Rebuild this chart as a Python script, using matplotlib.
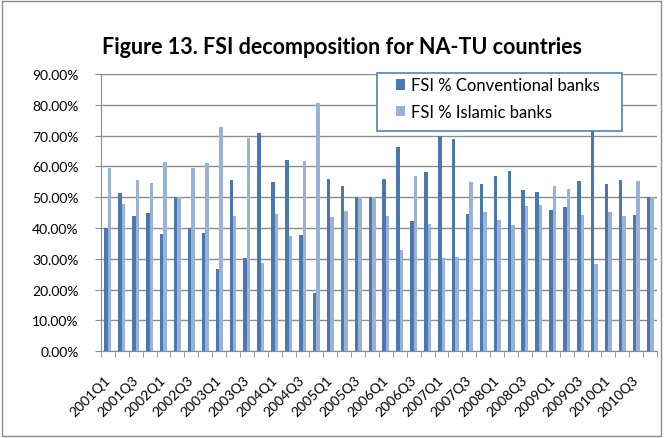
import matplotlib
matplotlib.use('Agg')
import matplotlib.pyplot as plt
import numpy as np
from matplotlib.ticker import PercentFormatter, FixedLocator
from matplotlib.patches import Rectangle
from matplotlib.transforms import ScaledTranslation

quarters = [f'{y}Q{q}' for y in range(2001, 2011) for q in range(1, 5)]

conventional = [40.0, 51.5, 43.9, 44.7, 38.0, 50.0, 40.0, 38.3,
                26.8, 55.5, 30.2, 70.9, 55.0, 62.1, 37.8, 18.8,
                56.0, 53.7, 50.0, 50.0, 55.8, 66.4, 42.3, 58.3,
                69.9, 69.0, 44.5, 54.4, 56.8, 58.4, 52.4, 51.8,
                45.8, 46.9, 55.3, 71.6, 54.4, 55.5, 44.2, 50.0]
islamic = [59.6, 47.8, 55.7, 54.7, 61.4, 50.0, 59.6, 61.2,
           72.8, 44.0, 69.3, 28.5, 44.4, 37.4, 61.7, 80.7,
           43.5, 45.6, 50.0, 50.0, 43.9, 33.0, 57.0, 41.2,
           30.1, 30.5, 54.9, 45.1, 42.5, 41.0, 47.1, 47.6,
           53.6, 52.7, 44.2, 28.4, 45.1, 44.0, 55.3, 50.0]

plt.rcParams['font.family'] = ['Lato', 'DejaVu Sans']

fig = plt.figure(figsize=(6.64, 4.39), dpi=100)
ax = fig.add_axes([0.152, 0.198, 0.8375, 0.631])

x = np.arange(len(quarters))
w = 0.25
ax.bar(x - w / 2, conventional, w, color='#4A78B2', label='FSI % Conventional banks', zorder=2)
ax.bar(x + w / 2, islamic, w, color='#9BB2D8', label='FSI % Islamic banks', zorder=2)

ax.set_ylim(0, 90)
ax.set_xlim(-0.5, len(quarters) - 0.5)
ax.set_yticks(np.arange(0, 91, 10))
ax.yaxis.set_major_formatter(PercentFormatter(xmax=100, decimals=2))
ax.grid(axis='y', color='#8C8C8C', lw=1, zorder=0)
ax.tick_params(axis='y', length=4, color='#8C8C8C', labelsize=10, pad=12)

ax.set_xticks(x[::2])
ax.set_xticklabels(quarters[::2], rotation=45, ha='right', rotation_mode='anchor', fontsize=10)
ax.xaxis.set_minor_locator(FixedLocator(np.arange(-0.5, len(quarters), 1)))
ax.tick_params(axis='x', which='major', length=0, pad=16)
ax.tick_params(axis='x', which='minor', length=4, color='#8C8C8C')
shift = ScaledTranslation(-4 / 100, 0, fig.dpi_scale_trans)
for lab in ax.get_xticklabels():
    lab.set_transform(lab.get_transform() + shift)

for s in ['top', 'right']:
    ax.spines[s].set_visible(False)
for s in ['left', 'bottom']:
    ax.spines[s].set_color('#8C8C8C')

# legend box (drawn separately so the padding matches)
box = Rectangle((0.4964, 0.794), 0.4406, 0.2096, transform=ax.transAxes, clip_on=False,
                facecolor='white', edgecolor='#4F81BD', lw=1.2, zorder=4)
ax.add_patch(box)
leg = ax.legend(loc='upper left', bbox_to_anchor=(0.530, 0.988), frameon=False,
                handlelength=0.55, handleheight=0.55, handletextpad=0.4,
                labelspacing=0.65, borderpad=0, borderaxespad=0, fontsize=12)
leg.set_zorder(5)

fig.text(0.515, 0.891, 'Figure 13. FSI decomposition for NA-TU countries',
         ha='center', va='center', fontsize=15.5, fontweight='bold')

fig.patches.append(Rectangle((0.003, 0.004), 0.992, 0.992, transform=fig.transFigure,
                             fill=False, edgecolor='#8C8C8C', lw=1))

fig.savefig('out.png', dpi=100)
